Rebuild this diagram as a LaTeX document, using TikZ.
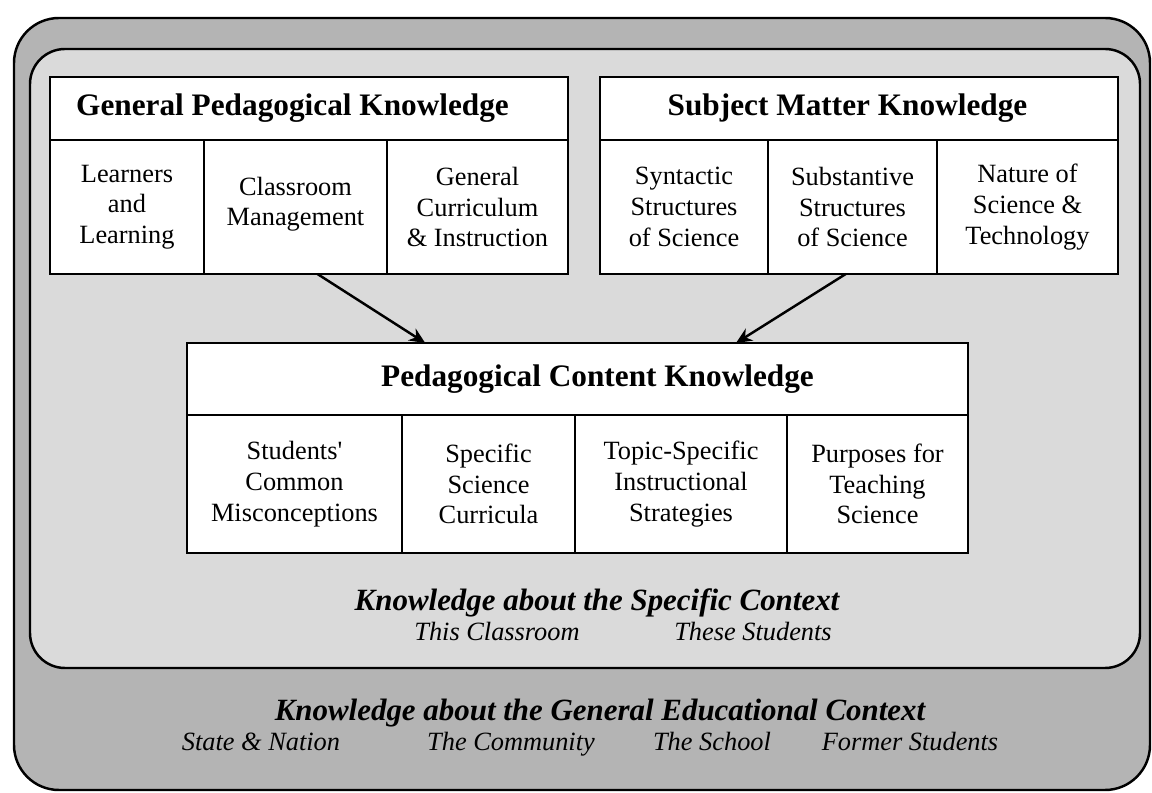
\documentclass[tikz,border=0pt]{standalone}
\usepackage{fontspec}
\setmainfont{Liberation Serif}
\usetikzlibrary{arrows.meta, positioning, calc}
\definecolor{ringgray}{RGB}{180,180,180}
\definecolor{fieldgray}{RGB}{218,218,218}

\tikzset{
  hdr/.style={draw, fill=white, line width=1.4pt, anchor=north west, inner sep=0pt, outer sep=0pt,
    minimum height=1.26cm, font=\fontsize{17.8}{20}\selectfont\bfseries},
  cell/.style={draw, fill=white, line width=1.4pt, anchor=north west, inner sep=0pt, outer sep=0pt,
    minimum height=2.68cm, align=center, font=\fontsize{15}{17.5}\selectfont},
  ctx/.style={font=\fontsize{17.6}{20}\selectfont\bfseries\itshape},
  item/.style={anchor=base, font=\fontsize{15}{17}\selectfont\itshape},
  link/.style={-{Stealth[length=9pt, width=8pt]}, line width=1.4pt}
}

\begin{document}
\begin{tikzpicture}
    \useasboundingbox (0,0) rectangle (23.04,-15.86);
    % Context frames
    \draw[line width=1.4pt, fill=ringgray, rounded corners=0.9cm] (0.28,-0.36) rectangle (23.0,-15.8);
    \draw[line width=1.4pt, fill=fieldgray, rounded corners=0.7cm] (0.6,-0.98) rectangle (22.8,-13.36);

    % General pedagogical knowledge
    \node[hdr, minimum width=10.36cm] (gpk) at (1.0,-1.54) {\hspace*{-0.66cm}General Pedagogical Knowledge};
    \node[cell, minimum width=3.08cm] (gpk1) at (gpk.south west) {Learners\\and\\Learning};
    \node[cell, minimum width=3.66cm] (gpk2) at (gpk1.north east) {Classroom\\Management\\[-11pt]};
    \node[cell, minimum width=3.62cm] (gpk3) at (gpk2.north east) {General\\Curriculum\\\& Instruction};

    % Subject matter knowledge
    \node[hdr, minimum width=10.36cm] (smk) at (12.0,-1.54) {\hspace*{-0.46cm}Subject Matter Knowledge};
    \node[cell, minimum width=3.36cm] (smk1) at (smk.south west) {Syntactic\\Structures\\of Science};
    \node[cell, minimum width=3.38cm] (smk2) at (smk1.north east) {Substantive\\Structures\\of Science};
    \node[cell, minimum width=3.62cm] (smk3) at (smk2.north east) {Nature of\\Science \&\\Technology};

    % Pedagogical content knowledge
    \node[hdr, minimum width=15.62cm, minimum height=1.44cm] (pck) at (3.74,-6.86) {\hspace*{0.8cm}Pedagogical Content Knowledge};
    \node[cell, minimum width=4.3cm, minimum height=2.76cm] (pck1) at (pck.south west) {Students\textquotesingle\\Common\\Misconceptions};
    \node[cell, minimum width=3.46cm, minimum height=2.76cm] (pck2) at (pck1.north east) {Specific\\Science\\Curricula};
    \node[cell, minimum width=4.24cm, minimum height=2.76cm] (pck3) at (pck2.north east) {Topic-Specific\\Instructional\\Strategies};
    \node[cell, minimum width=3.62cm, minimum height=2.76cm] (pck4) at (pck3.north east) {Purposes for\\Teaching\\Science};

    \draw[link] ($(gpk2.south west)!0.62!(gpk2.south east)$) -- ($(pck.north west)!0.305!(pck.north east)$);
    \draw[link] ($(smk2.south west)!0.46!(smk2.south east)$) -- ($(pck.north west)!0.703!(pck.north east)$);

    % Specific context
    \node[ctx] (spec) at (11.94,-12.06) {Knowledge about the Specific Context};
    \node[item] (room) at (9.94,-12.8) {This Classroom};
    \node[item] (stud) at (15.06,-12.8) {These Students};

    % General educational context
    \node[ctx] (gen) at (12.0,-14.26) {Knowledge about the General Educational Context};
    \node[item] (nation) at (5.22,-15.0) {State \& Nation};
    \node[item] (comm) at (10.22,-15.0) {The Community};
    \node[item] (school) at (14.24,-15.0) {The School};
    \node[item] (former) at (18.2,-15.0) {Former Students};
\end{tikzpicture}
\end{document}
